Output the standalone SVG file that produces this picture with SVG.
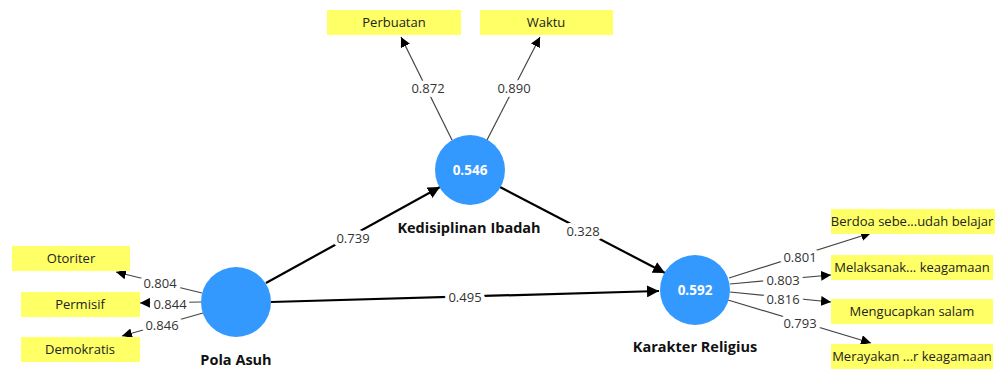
<svg xmlns="http://www.w3.org/2000/svg" width="995" height="370" viewBox="0 0 995 370">
<defs>
<marker id="ah" viewBox="0 0 10 10" refX="10" refY="5" markerWidth="10" markerHeight="10" markerUnits="userSpaceOnUse" orient="auto"><path d="M0,0 L10,5 L0,10 z" fill="#000"/></marker>
<marker id="ahb" viewBox="0 0 10 10" refX="10" refY="5" markerWidth="12" markerHeight="12" markerUnits="userSpaceOnUse" orient="auto"><path d="M0,0 L10,5 L0,10 z" fill="#000"/></marker>
<style>
.box{fill:#ffff66}
.bt{font-family:"Open Sans","Noto Sans","Liberation Sans",sans-serif;font-size:13px;fill:#222;text-anchor:middle}
.lv{fill:#3399ff}
.lvv{font-family:"Open Sans","Noto Sans","Liberation Sans",sans-serif;font-size:13.5px;font-weight:bold;fill:#fff;text-anchor:middle}
.lvn{font-family:"Open Sans","Noto Sans","Liberation Sans",sans-serif;font-size:14.5px;font-weight:bold;fill:#111;text-anchor:middle}
.thin{stroke:#444;stroke-width:1.2;fill:none;marker-end:url(#ah)}
.thick{stroke:#000;stroke-width:2.2;fill:none;marker-end:url(#ahb)}
.num{font-family:"Open Sans","Noto Sans","Liberation Sans",sans-serif;font-size:13px;fill:#333;text-anchor:middle;stroke:#fff;stroke-width:8;paint-order:stroke;stroke-linejoin:round}
</style>
</defs>
<g id="connectors">
<line class="thin" x1="452" y1="140" x2="401" y2="37"/>
<line class="thin" x1="487" y1="140" x2="540" y2="37"/>
<line class="thick" x1="266" y1="283" x2="440" y2="187"/>
<line class="thick" x1="500" y1="187" x2="665" y2="273"/>
<line class="thick" x1="271" y1="302" x2="659" y2="291"/>
<line class="thin" x1="202" y1="293" x2="116" y2="272"/>
<line class="thin" x1="201" y1="302" x2="140" y2="303"/>
<line class="thin" x1="203" y1="313" x2="122" y2="336"/>
<line class="thin" x1="729" y1="278" x2="871" y2="233"/>
<line class="thin" x1="730" y1="284" x2="831" y2="275"/>
<line class="thin" x1="730" y1="292" x2="831" y2="302"/>
<line class="thin" x1="728" y1="300" x2="871" y2="343"/>
<text class="num" x="428" y="93">0.872</text>
<text class="num" x="514" y="93">0.890</text>
<text class="num" x="353" y="243">0.739</text>
<text class="num" x="583" y="236">0.328</text>
<text class="num" x="465" y="302">0.495</text>
<text class="num" x="160" y="288">0.804</text>
<text class="num" x="170" y="309">0.844</text>
<text class="num" x="162" y="330">0.846</text>
<text class="num" x="800" y="262">0.801</text>
<text class="num" x="783" y="285">0.803</text>
<text class="num" x="783" y="304">0.816</text>
<text class="num" x="800" y="328">0.793</text>
</g>
<g id="perbuatan"><rect class="box" x="327" y="10" width="134" height="25"/><text class="bt" x="394" y="27">Perbuatan</text></g>
<g id="waktu"><rect class="box" x="480" y="10" width="133" height="25"/><text class="bt" x="546" y="27">Waktu</text></g>
<g id="otoriter"><rect class="box" x="12" y="246" width="118" height="25"/><text class="bt" x="71" y="263">Otoriter</text></g>
<g id="permisif"><rect class="box" x="21" y="292" width="119" height="25"/><text class="bt" x="80" y="309">Permisif</text></g>
<g id="demokratis"><rect class="box" x="21" y="337" width="119" height="25"/><text class="bt" x="80" y="354">Demokratis</text></g>
<g id="berdoa"><rect class="box" x="831" y="209" width="164" height="25"/><text class="bt" x="912" y="226">Berdoa sebe...udah belajar</text></g>
<g id="melaksanak"><rect class="box" x="831" y="255" width="162" height="25"/><text class="bt" x="912" y="272">Melaksanak... keagamaan</text></g>
<g id="mengucapkan"><rect class="box" x="831" y="299" width="162" height="25"/><text class="bt" x="912" y="316">Mengucapkan salam</text></g>
<g id="merayakan"><rect class="box" x="831" y="344" width="162" height="25"/><text class="bt" x="912" y="361">Merayakan ...r keagamaan</text></g>
<g id="kedisiplinan"><circle class="lv" cx="470" cy="170" r="35"/><text class="lvv" x="470" y="175">0.546</text><text class="lvn" x="469" y="233">Kedisiplinan Ibadah</text></g>
<g id="pola"><circle class="lv" cx="236" cy="302" r="35"/><text class="lvn" x="236" y="365">Pola Asuh</text></g>
<g id="karakter"><circle class="lv" cx="695" cy="290" r="35"/><text class="lvv" x="695" y="295">0.592</text><text class="lvn" x="695" y="352">Karakter Religius</text></g>
</svg>
